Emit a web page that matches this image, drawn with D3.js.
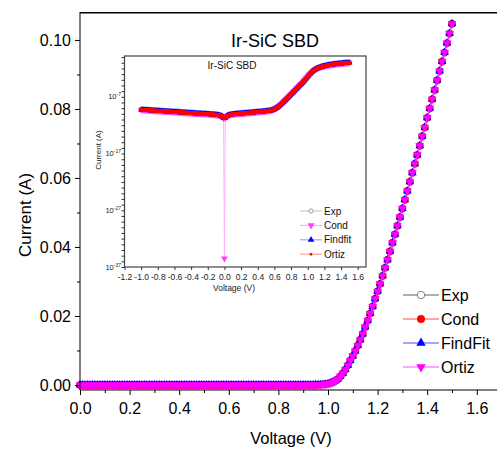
<!DOCTYPE html>
<html>
<head>
<meta charset="utf-8">
<script src="https://cdn.jsdelivr.net/npm/d3@7"></script>
<style>
  html, body { margin: 0; padding: 0; background: #fff; }
  svg { display: block; font-family: "Liberation Sans", Arial, sans-serif; }
</style>
</head>
<body>
<svg id="chart" width="497" height="452"></svg>
<script>
// Ir-SiC Schottky barrier diode: measured I-V sweep with three fitted models.

// Legend names (main panel and inset)
const seriesNames = ["Exp", "Cond", "FindFit", "Ortiz"];
const insetSeriesNames = ["Exp", "Cond", "Findfit", "Ortiz"];

// Voltage sweep: -1.00 V to 1.50 V in 10 mV steps
const sweepStart = -1.0;
const sweepStep = 0.01;

// log10 |I| (A) at each sweep voltage; I = 0 exactly at V = 0 (null)
const logCurrent = [
  -9.28, -9.29, -9.30, -9.31, -9.32, -9.33, -9.34, -9.34, -9.35, -9.36,
  -9.37, -9.38, -9.39, -9.40, -9.41, -9.42, -9.43, -9.44, -9.45, -9.46,
  -9.47, -9.48, -9.49, -9.50, -9.51, -9.52, -9.53, -9.54, -9.55, -9.56,
  -9.57, -9.58, -9.59, -9.60, -9.61, -9.62, -9.63, -9.64, -9.65, -9.66,
  -9.67, -9.67, -9.68, -9.69, -9.70, -9.71, -9.72, -9.73, -9.74, -9.75,
  -9.76, -9.77, -9.78, -9.79, -9.80, -9.81, -9.82, -9.83, -9.84, -9.85,
  -9.86, -9.87, -9.88, -9.89, -9.90, -9.91, -9.92, -9.93, -9.94, -9.95,
  -9.96, -9.97, -9.98, -9.99, -10.00, -10.01, -10.01, -10.02, -10.03, -10.04,
  -10.05, -10.06, -10.07, -10.08, -10.09, -10.10, -10.11, -10.12, -10.14, -10.15,
  -10.16, -10.18, -10.20, -10.22, -10.25, -10.29, -10.34, -10.41, -10.53, -10.78,
  null,
  -10.73, -10.47, -10.35, -10.27, -10.22, -10.18, -10.15, -10.12, -10.10, -10.08,
  -10.06, -10.05, -10.03, -10.02, -10.00, -9.99, -9.97, -9.96, -9.95, -9.93,
  -9.92, -9.91, -9.89, -9.88, -9.87, -9.85, -9.84, -9.83, -9.81, -9.80,
  -9.79, -9.77, -9.76, -9.75, -9.73, -9.72, -9.71, -9.69, -9.68, -9.67,
  -9.65, -9.64, -9.63, -9.61, -9.60, -9.59, -9.57, -9.55, -9.54, -9.52,
  -9.50, -9.48, -9.46, -9.44, -9.41, -9.38, -9.34, -9.29, -9.23, -9.17,
  -9.09, -9.01, -8.91, -8.80, -8.69, -8.57, -8.44, -8.30, -8.17, -8.03,
  -7.88, -7.74, -7.59, -7.44, -7.30, -7.15, -7.00, -6.85, -6.70, -6.55,
  -6.40, -6.25, -6.10, -5.95, -5.80, -5.65, -5.50, -5.35, -5.20, -5.05,
  -4.90, -4.75, -4.60, -4.45, -4.30, -4.13, -3.95, -3.77, -3.59, -3.41,
  -3.24, -3.07, -2.91, -2.76, -2.60, -2.47, -2.35, -2.245, -2.15, -2.076,
  -2.007, -1.941, -1.883, -1.830, -1.775, -1.729, -1.684, -1.643, -1.602, -1.566,
  -1.533, -1.500, -1.469, -1.440, -1.412, -1.385, -1.360, -1.336, -1.313, -1.291,
  -1.270, -1.250, -1.230, -1.211, -1.193, -1.176, -1.159, -1.142, -1.127, -1.111,
  -1.096, -1.082, -1.068, -1.054, -1.041, -1.028, -1.016, -1.004, -0.992, -0.980
];

// Conduction model evaluated at V = 0 (log10 A)
const condLogAtZero = -35.5;

// Axis ticks
const mainXTicks = [0, 0.2, 0.4, 0.6, 0.8, 1.0, 1.2, 1.4, 1.6];
const mainXMinor = [0.1, 0.3, 0.5, 0.7, 0.9, 1.1, 1.3, 1.5, 1.7];
const mainYTicks = [0, 0.02, 0.04, 0.06, 0.08, 0.10];
const mainYMinor = [0.01, 0.03, 0.05, 0.07, 0.09];
const insetXTicks = [-1.2, -1.0, -0.8, -0.6, -0.4, -0.2, 0, 0.2, 0.4, 0.6, 0.8, 1.0, 1.2, 1.4, 1.6];
const insetYLabelExps = [-7, -17, -27, -37];

// ---------------------------------------------------------------------------
const voltage = logCurrent.map((_, i) => +(sweepStart + i * sweepStep).toFixed(2));
const sweep = voltage.map((v, i) => ({ v, lg: logCurrent[i] }));

const svg = d3.select("#chart");
const font = '"Liberation Sans", Arial, sans-serif';
const fmt1 = d => d3.format(".1f")(d).replace("\u2212", "-");

// ---------------- main panel (linear current) ----------------
const x = d3.scaleLinear().domain([0, 1.7]).range([80, 501.6]);
const y = d3.scaleLinear().domain([-0.00145, 0.1079]).range([390, 12.7]);

const forward = sweep.filter(d => d.v >= 0).map(d => ({
  v: d.v,
  i: d.lg === null ? 0 : Math.pow(10, d.lg)
}));

const mainStyle = {
  Exp:     { color: "#808080", line: "#606060", symbol: d3.symbolCircle, size: 38, rot: 0, fill: "#fff" },
  Cond:    { color: "#ff0000", line: "#ff4d4d", symbol: d3.symbolCircle, size: 44, rot: 0 },
  FindFit: { color: "#0000ff", line: "#4d4dff", symbol: d3.symbolTriangle, size: 32, rot: 0 },
  Ortiz:   { color: "#ff00ff", line: "#ff4dff", symbol: d3.symbolTriangle, size: 34, rot: 180 }
};

const mainLine = d3.line().x(d => x(d.v)).y(d => y(d.i));
const mainG = svg.append("g");

seriesNames.forEach(name => {
  const st = mainStyle[name];
  mainG.append("path").datum(forward)
    .attr("d", mainLine).attr("fill", "none")
    .attr("stroke", st.line).attr("stroke-width", 1);
  const sym = d3.symbol().type(st.symbol).size(st.size);
  mainG.append("g").selectAll("path").data(forward).join("path")
    .attr("d", sym)
    .attr("transform", d => `translate(${x(d.v)},${y(d.i)}) rotate(${st.rot})`)
    .attr("fill", st.fill || st.color)
    .attr("stroke", st.fill ? st.color : "none")
    .attr("stroke-width", 1);
});

// frame lines
svg.append("line").attr("x1", 80).attr("x2", 497).attr("y1", 12.7).attr("y2", 12.7)
  .attr("stroke", "#000").attr("stroke-width", 1.5);
svg.append("line").attr("x1", 80).attr("x2", 497).attr("y1", 390).attr("y2", 390)
  .attr("stroke", "#000").attr("stroke-width", 1);
svg.append("line").attr("x1", 80).attr("x2", 80).attr("y1", 12).attr("y2", 390)
  .attr("stroke", "#000").attr("stroke-width", 1);

// axes
const xAxis = svg.append("g").attr("transform", "translate(0,390)")
  .call(d3.axisBottom(x).tickValues(mainXTicks).tickFormat(d3.format(".1f"))
    .tickSize(5).tickSizeOuter(0).tickPadding(8));
svg.append("g").attr("transform", "translate(0,390)")
  .call(d3.axisBottom(x).tickValues(mainXMinor).tickFormat("").tickSize(3).tickSizeOuter(0));
const yAxis = svg.append("g").attr("transform", "translate(80,0)")
  .call(d3.axisLeft(y).tickValues(mainYTicks).tickFormat(d3.format(".2f"))
    .tickSize(5).tickSizeOuter(0).tickPadding(4));
svg.append("g").attr("transform", "translate(80,0)")
  .call(d3.axisLeft(y).tickValues(mainYMinor).tickFormat("").tickSize(3).tickSizeOuter(0));
svg.selectAll(".domain").remove();
svg.selectAll(".tick line").attr("stroke", "#000");
xAxis.selectAll("text").attr("font-size", 16).attr("font-family", font).attr("fill", "#000");
yAxis.selectAll("text").attr("font-size", 16).attr("font-family", font).attr("fill", "#000");

svg.append("text").attr("x", 291).attr("y", 444).attr("text-anchor", "middle")
  .attr("font-size", 16.5).text("Voltage (V)");
svg.append("text").attr("transform", "translate(31,215) rotate(-90)")
  .attr("text-anchor", "middle").attr("font-size", 17).text("Current (A)");

svg.append("text").attr("x", 275).attr("y", 46.5).attr("text-anchor", "middle")
  .attr("font-size", 18).text("Ir-SiC SBD");

// main legend
const legMain = svg.append("g");
seriesNames.forEach((name, k) => {
  const st = mainStyle[name];
  const cy = 295 + k * 24;
  legMain.append("line").attr("x1", 403).attr("x2", 439).attr("y1", cy).attr("y2", cy)
    .attr("stroke", st.line).attr("stroke-width", 1);
  legMain.append("path")
    .attr("d", d3.symbol().type(st.symbol).size(st.size + 6)())
    .attr("transform", `translate(421,${cy}) rotate(${st.rot})`)
    .attr("fill", st.fill || st.color)
    .attr("stroke", st.fill ? st.color : "none");
  legMain.append("text").attr("x", 441).attr("y", cy + 6)
    .attr("font-size", 16).text(name);
});

// ---------------- inset (log current) ----------------
const inset = svg.append("g");
const xi = d3.scaleLinear().domain([-1.2, 1.7]).range([124.5, 366]);
const yi = d3.scaleLog().domain([1e-37, Math.pow(10, 0.2)]).range([267, 56]);

inset.append("rect").attr("x", 124.5).attr("y", 56).attr("width", 241.5).attr("height", 211)
  .attr("fill", "#fff").attr("stroke", "#444").attr("stroke-width", 1.2);

const insetStyle = {
  Exp:     { color: "#888888", line: "#c8c8c8", symbol: d3.symbolCircle, size: 12, rot: 0, fill: "#fff" },
  Cond:    { color: "#ff40ff", line: "#ffb0ff", symbol: d3.symbolTriangle, size: 20, rot: 180 },
  Findfit: { color: "#0000ff", line: "#a8a8ff", symbol: d3.symbolTriangle, size: 17, rot: 0 },
  Ortiz:   { color: "#ff0000", line: "#ffa0a0", symbol: d3.symbolSquare, size: 14, rot: 0 }
};

const seriesData = {
  Exp: sweep,
  Cond: sweep.map(d => ({ v: d.v, lg: d.lg === null ? condLogAtZero : d.lg })),
  Findfit: sweep,
  Ortiz: sweep
};

const insetLine = d3.line().defined(d => d.lg !== null)
  .x(d => xi(d.v)).y(d => yi(Math.pow(10, d.lg)));

insetSeriesNames.forEach(name => {
  const st = insetStyle[name];
  const data = seriesData[name];
  inset.append("path").datum(data).attr("d", insetLine)
    .attr("fill", "none").attr("stroke", st.line).attr("stroke-width", 1);
  const sym = d3.symbol().type(st.symbol).size(st.size);
  inset.append("g").selectAll("path").data(data.filter(d => d.lg !== null)).join("path")
    .attr("d", sym)
    .attr("transform", d => `translate(${xi(d.v)},${yi(Math.pow(10, d.lg))}) rotate(${st.rot})`)
    .attr("fill", st.fill || st.color)
    .attr("stroke", st.fill ? st.color : "none")
    .attr("stroke-width", 0.8);
});

// inset axes
const xiAxis = inset.append("g").attr("transform", "translate(0,267)")
  .call(d3.axisBottom(xi).tickValues(insetXTicks).tickFormat(fmt1)
    .tickSize(3).tickSizeOuter(0).tickPadding(4));
const decades = d3.range(-37, 1).map(e => Math.pow(10, e));
const yiAxis = inset.append("g").attr("transform", "translate(124.5,0)")
  .call(d3.axisLeft(yi).tickValues(decades).tickFormat("").tickSize(3).tickSizeOuter(0));
inset.selectAll(".domain").remove();
inset.selectAll(".tick line").attr("stroke", "#333");
xiAxis.selectAll("text").attr("font-size", 8.5).attr("font-family", font).attr("fill", "#222");

insetYLabelExps.forEach(e => {
  const t = inset.append("text").attr("x", 121).attr("y", yi(Math.pow(10, e)) + 2.5)
    .attr("text-anchor", "end").attr("font-size", 7.5).attr("fill", "#222");
  t.append("tspan").text("10");
  t.append("tspan").attr("font-size", 5).attr("dy", -3).text(String(e));
});

inset.append("text").attr("x", 234).attr("y", 291).attr("text-anchor", "middle")
  .attr("font-size", 8.5).attr("fill", "#222").text("Voltage (V)");
inset.append("text").attr("transform", "translate(101,150) rotate(-90)")
  .attr("text-anchor", "middle").attr("font-size", 8).attr("fill", "#222").text("Current (A)");
inset.append("text").attr("x", 232).attr("y", 69).attr("text-anchor", "middle")
  .attr("font-size", 10).attr("fill", "#111").text("Ir-SiC SBD");

// inset legend
insetSeriesNames.forEach((name, k) => {
  const st = insetStyle[name];
  const cy = 211 + k * 14.4;
  inset.append("line").attr("x1", 300).attr("x2", 322).attr("y1", cy).attr("y2", cy)
    .attr("stroke", st.line).attr("stroke-width", 1.2);
  inset.append("path")
    .attr("d", d3.symbol().type(st.symbol).size(name === "Ortiz" ? 6 : st.size + 2)())
    .attr("transform", `translate(311,${cy}) rotate(${st.rot})`)
    .attr("fill", st.fill || st.color)
    .attr("stroke", st.fill ? st.color : "none").attr("stroke-width", 0.8);
  inset.append("text").attr("x", 324).attr("y", cy + 3.5)
    .attr("font-size", 10).attr("fill", "#111").text(name);
});
</script>
</body>
</html>
